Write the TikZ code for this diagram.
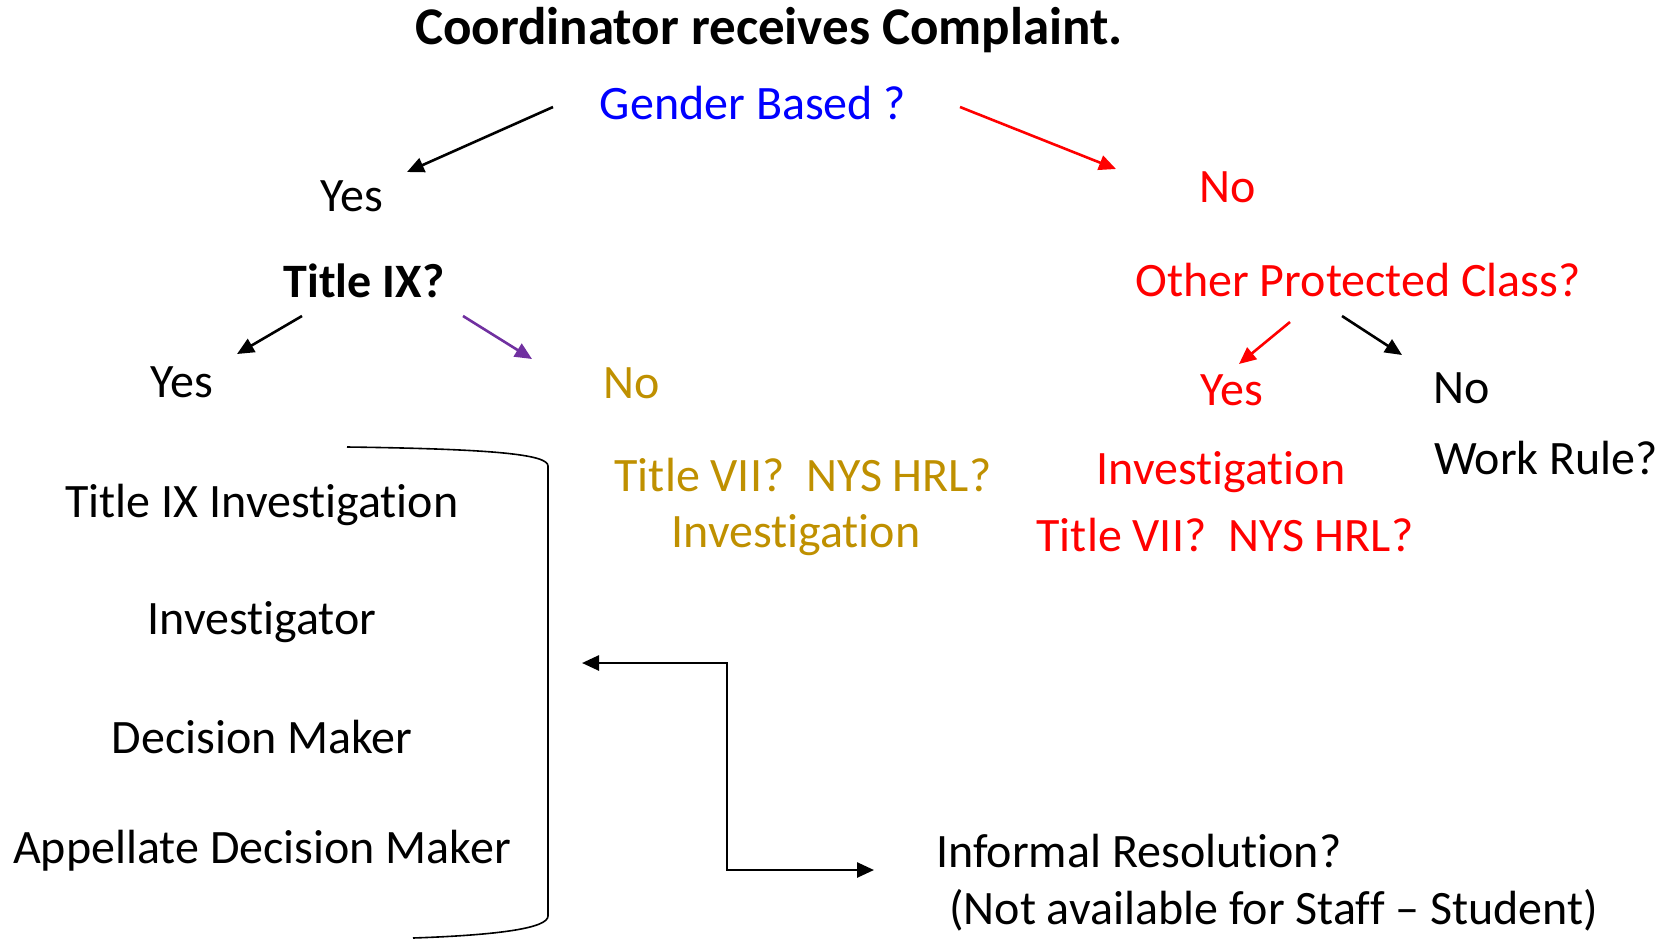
\documentclass[tikz,border=0pt]{standalone}
\usepackage{fontspec}
\setmainfont{Carlito}[Ligatures={TeX,NoCommon}]
\usetikzlibrary{arrows.meta}

\definecolor{gold}{RGB}{191,144,0}
\definecolor{plum}{RGB}{112,48,160}

\begin{document}
\begin{tikzpicture}[x=1pt, y=-1pt,
    every node/.style={font=\fontsize{48}{58}\selectfont, inner sep=0pt},
    >={Triangle[length=17pt,width=15pt]},
    line/.style={draw, ->, line width=2.6pt},
    label/.style={anchor=center},
    heading/.style={anchor=center, font=\fontsize{48}{58}\selectfont\bfseries}]

\useasboundingbox (0,0) rectangle (1675,940);

% Top question
\node[heading, font=\fontsize{53}{62}\selectfont\bfseries] (start) at (769,30) {Coordinator receives Complaint.};
\node[label, blue] (gender) at (753,103) {Gender Based ?};

% Gender based branch
\node[label] (yesA) at (352,196) {Yes};
\node[heading] (titleix) at (364,281) {Title IX?};
\node[label] (yesB) at (182,382) {Yes};
\node[label, gold] (noB) at (632,383) {No};
\node[label, gold] (goldq) at (803,475) {Title VII?\ \ NYS HRL?};
\node[label, gold] (goldinv) at (796,535) {Investigation};

% Title IX roles
\node[label] (tix) at (262,505) {Title IX Investigation};
\node[label] (inv) at (262,622) {Investigator};
\node[label] (dm) at (262,737) {Decision Maker};
\node[label] (adm) at (262,851) {Appellate Decision Maker};

% Not gender based branch
\node[label, red] (noA) at (1228,187) {No};
\node[label, red] (other) at (1358,280) {Other Protected Class?};
\node[label, red] (yesC) at (1232,390) {Yes};
\node[label] (noC) at (1462,388) {No};
\node[label] (work) at (1546,458) {Work Rule?};
\node[label, red] (redinv) at (1221,472) {Investigation};
\node[label, red] (redq) at (1225,535) {Title VII?\ \ NYS HRL?};

% Informal resolution
\node[anchor=west] (informal) at (936,851) {Informal Resolution?};
\node[anchor=west] (staff) at (949,910) {(Not available for Staff – Student)};

% Arrow ends
\coordinate (g-l) at (553,107);  \coordinate (yesA-t) at (407,172);
\coordinate (g-r) at (960,107);  \coordinate (noA-t) at (1116,169);
\coordinate (t-l) at (302,316);  \coordinate (yesB-t) at (237,354);
\coordinate (t-r) at (463,316);  \coordinate (noB-t) at (532,359);
\coordinate (o-l) at (1290,322); \coordinate (yesC-t) at (1239,364);
\coordinate (o-r) at (1342,316); \coordinate (noC-t) at (1402,355);
\coordinate (roles-r) at (582,663);
\coordinate (bend-t) at (727,663);
\coordinate (bend-b) at (727,870);
\coordinate (informal-l) at (874,870);

% Paths
\draw [line] (g-l) -- (yesA-t);
\draw [line, red] (g-r) -- (noA-t);
\draw [line] (t-l) -- (yesB-t);
\draw [line, plum] (t-r) -- (noB-t);
\draw [line, red] (o-l) -- (yesC-t);
\draw [line] (o-r) -- (noC-t);
\draw [line, <->] (roles-r) -- (bend-t) -- (bend-b) -- (informal-l);

% Bracket round the roles
\draw [line width=1.6pt] (347,447) .. controls (500,449) and (548,455) .. (548,466)
    -- (548,916) .. controls (548,928) and (500,935) .. (413,938);

\end{tikzpicture}
\end{document}
